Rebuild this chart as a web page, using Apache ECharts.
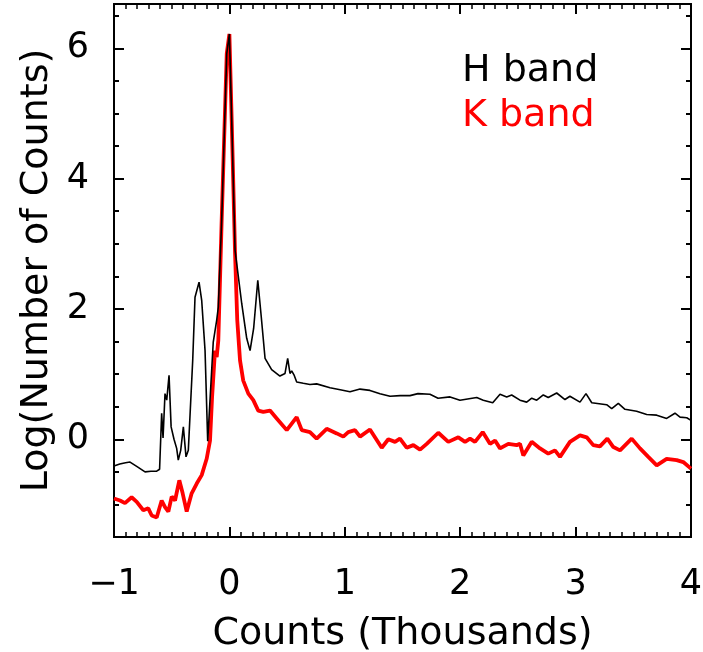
<!DOCTYPE html>
<html>
<head>
<meta charset="utf-8">
<script src="https://cdn.jsdelivr.net/npm/echarts@6/dist/echarts.min.js"></script>
<style>html,body{margin:0;padding:0;background:#fff}#c{width:703px;height:652px}</style>
</head>
<body>
<div id="c"></div>
<script>
// Counts in thousands (x) vs log10(number of counts) (y)
var hBand = [
 [-1.0,-0.41],[-0.95,-0.38],[-0.90,-0.36],[-0.861,-0.35],[-0.80,-0.42],[-0.731,-0.50],[-0.68,-0.49],[-0.630,-0.49],[-0.605,-0.46],
 [-0.587,0.40],[-0.575,0.02],[-0.558,0.70],[-0.543,0.60],[-0.523,0.98],[-0.505,0.19],[-0.480,0.0],[-0.457,-0.14],[-0.443,-0.32],
 [-0.422,-0.17],[-0.399,0.19],[-0.376,-0.27],[-0.356,-0.17],[-0.318,1.21],[-0.298,2.18],[-0.263,2.41],[-0.240,2.13],[-0.211,1.36],
 [-0.188,-0.03],[-0.140,1.49],[-0.110,1.83],[-0.096,2.03],[-0.067,3.36],[-0.023,5.92],[0.0,6.22],[0.02,4.9],[0.049,2.9],
 [0.107,2.08],[0.150,1.55],[0.179,1.36],[0.210,1.7],[0.246,2.44],[0.275,1.9],[0.309,1.24],[0.366,1.07],[0.438,0.97],[0.482,1.01],
 [0.505,1.24],[0.525,1.01],[0.540,1.05],[0.562,0.98],[0.583,0.88],[0.640,0.86],[0.698,0.84],[0.756,0.85],[0.872,0.79],[0.960,0.76],
 [1.045,0.73],[1.132,0.77],[1.218,0.75],[1.305,0.70],[1.392,0.66],[1.480,0.67],[1.565,0.67],[1.634,0.70],[1.738,0.69],[1.808,0.63],
 [1.912,0.65],[1.998,0.60],[2.143,0.64],[2.200,0.60],[2.282,0.56],[2.345,0.69],[2.403,0.65],[2.446,0.68],[2.518,0.60],[2.576,0.57],
 [2.620,0.63],[2.663,0.60],[2.720,0.68],[2.763,0.64],[2.836,0.71],[2.908,0.61],[2.951,0.66],[3.038,0.57],[3.090,0.70],[3.140,0.56],
 [3.269,0.53],[3.313,0.47],[3.370,0.55],[3.428,0.46],[3.529,0.43],[3.616,0.38],[3.703,0.37],[3.789,0.32],[3.861,0.40],[3.905,0.34],
 [3.963,0.33],[4.0,0.29]
];
var kBand = [
 [-1.0,-0.91],[-0.948,-0.94],[-0.905,-0.98],[-0.847,-0.89],[-0.803,-0.96],[-0.746,-1.09],[-0.703,-1.06],[-0.673,-1.17],[-0.630,-1.20],
 [-0.587,-0.94],[-0.558,-1.04],[-0.529,-1.11],[-0.500,-0.88],[-0.471,-0.94],[-0.434,-0.63],[-0.405,-0.83],[-0.370,-1.11],[-0.327,-0.83],
 [-0.283,-0.68],[-0.240,-0.55],[-0.197,-0.30],[-0.168,-0.02],[-0.150,0.65],[-0.125,1.36],[-0.110,1.26],[-0.096,1.52],[-0.067,3.36],
 [-0.023,5.92],[0.0,6.22],[0.020,4.89],[0.049,2.85],[0.068,1.83],[0.092,1.21],[0.120,0.90],[0.164,0.70],[0.207,0.60],[0.250,0.44],
 [0.294,0.42],[0.352,0.44],[0.410,0.32],[0.497,0.14],[0.540,0.24],[0.583,0.34],[0.627,0.14],[0.698,0.11],[0.756,0.01],[0.843,0.16],
 [0.930,0.09],[0.987,0.04],[1.030,0.11],[1.088,0.14],[1.132,0.04],[1.218,0.15],[1.320,-0.13],[1.377,0.0],[1.435,-0.04],[1.478,0.01],
 [1.536,-0.13],[1.594,-0.09],[1.652,-0.16],[1.710,-0.07],[1.810,0.10],[1.897,-0.04],[1.984,0.03],[2.042,-0.04],[2.085,0.01],
 [2.128,-0.04],[2.195,0.11],[2.258,-0.07],[2.302,-0.02],[2.345,-0.14],[2.417,-0.07],[2.490,-0.09],[2.518,-0.07],[2.547,-0.25],
 [2.620,-0.04],[2.692,-0.14],[2.763,-0.22],[2.821,-0.17],[2.865,-0.27],[2.951,-0.04],[3.038,0.06],[3.096,0.03],[3.153,-0.09],
 [3.211,-0.11],[3.275,0.01],[3.327,-0.12],[3.385,-0.17],[3.486,0.01],[3.558,-0.14],[3.630,-0.27],[3.703,-0.40],[3.789,-0.30],
 [3.876,-0.32],[3.933,-0.35],[4.0,-0.45]
];
var yMajorTicks = [0, 2, 4, 6];
var seriesNames = ['H band', 'K band'];

var FONT = 'DejaVu Sans';
var FS = 35;
var FS_NAME = 38;
var chart = echarts.init(document.getElementById('c'));
var axLine = {show: true, onZero: false, lineStyle: {color: '#000', width: 2}};
function xAx(pos, labels) {
  return {
    type: 'value', position: pos, min: -1, max: 4, interval: 1,
    axisLine: axLine, splitLine: {show: false},
    axisTick: {show: true, inside: true, length: 10, lineStyle: {color: '#000', width: 2}},
    minorTick: {show: true, splitNumber: 10, length: 5, lineStyle: {color: '#000', width: 1.5}},
    axisLabel: labels ? {show: true, margin: 30, fontFamily: FONT, fontSize: FS, color: '#000',
      formatter: function (v) { return v < 0 ? '\u2212' + Math.abs(v) : String(v); }} : {show: false},
    name: labels ? 'Counts (Thousands)' : '', nameLocation: 'middle', nameGap: 78,
    nameTextStyle: {fontFamily: FONT, fontSize: FS_NAME, color: '#000'}
  };
}
function yAx(pos, major, labels) {
  var a = {
    type: 'value', position: pos, min: -1.5, max: 6.68,
    axisLine: axLine, splitLine: {show: false},
    axisLabel: {show: false}
  };
  if (major) {
    a.axisTick = {show: true, inside: true, length: 10, customValues: yMajorTicks, lineStyle: {color: '#000', width: 2}};
    if (labels) {
      a.axisLabel = {show: true, customValues: yMajorTicks, margin: 25, fontFamily: FONT, fontSize: FS, color: '#000'};
      a.name = 'Log(Number of Counts)';
      a.nameLocation = 'middle';
      a.nameGap = 58;
      a.nameRotate = 90;
      a.nameTextStyle = {fontFamily: FONT, fontSize: FS_NAME, color: '#000'};
    }
  } else {
    a.interval = 0.5;
    a.axisTick = {show: true, inside: true, length: 5, lineStyle: {color: '#000', width: 2}};
  }
  return a;
}
chart.setOption({
  animation: false,
  backgroundColor: '#fff',
  grid: {left: 114, right: 12, top: 4, bottom: 115, containLabel: false, outerBoundsMode: 'none'},
  xAxis: [xAx('bottom', true), xAx('top', false)],
  yAxis: [yAx('left', true, true), yAx('left', false, false), yAx('right', true, false), yAx('right', false, false)],
  legend: {
    show: true, orient: 'vertical', left: 452, top: 47, icon: 'none', itemWidth: 0, itemHeight: 10, itemGap: 7,
    selectedMode: false,
    textStyle: {fontFamily: FONT, fontSize: FS_NAME, lineHeight: 36},
    data: [
      {name: seriesNames[0], textStyle: {color: '#000'}},
      {name: seriesNames[1], textStyle: {color: '#ff0000'}}
    ]
  },
  series: [
    {name: seriesNames[0], type: 'line', data: hBand, xAxisIndex: 0, yAxisIndex: 0, showSymbol: false,
     lineStyle: {color: '#000', width: 1.6}, itemStyle: {color: '#000'}, z: 3},
    {name: seriesNames[1], type: 'line', data: kBand, xAxisIndex: 0, yAxisIndex: 0, showSymbol: false,
     lineStyle: {color: '#ff0000', width: 3.8}, itemStyle: {color: '#ff0000'}, z: 2}
  ]
});
</script>
</body>
</html>
